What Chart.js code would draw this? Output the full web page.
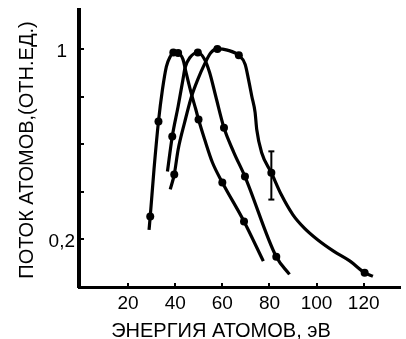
<!DOCTYPE html>
<html>
<head>
<meta charset="utf-8">
<script src="https://cdn.jsdelivr.net/npm/chart.js@4/dist/chart.umd.min.js"></script>
<style>
html,body{margin:0;padding:0;background:#fff;}
canvas{display:block;}
</style>
</head>
<body>
<canvas id="c" width="406" height="339"></canvas>
<script>
// ---- text ----
const xTitle = 'ЭНЕРГИЯ АТОМОВ, эВ';
const yTitle = 'ПОТОК АТОМОВ,(ОТН.ЕД.)';

// ---- ticks ----
const xTickValues = [20, 40, 60, 80, 100, 120];
const xTickLabels = ['20', '40', '60', '80', '100', '120'];
const yTickValues = [0.2, 0.4, 0.6, 0.8, 1.0];
const yTickLabels = ['0,2', '', '', '', '1'];

// ---- curve 1 (peak ~40 eV) ----
const curve1X = [28.9, 29.4, 31.0, 32.9, 34.6, 36.25, 37.9, 39.2, 41.25, 43.3, 44.6, 46.7, 48.75, 49.9, 52.5, 55.8, 60.0, 69.2, 77.4];
const curve1Y = [0.24, 0.297, 0.495, 0.697, 0.832, 0.928, 0.97, 0.987, 0.985, 0.958, 0.903, 0.819, 0.747, 0.705, 0.621, 0.524, 0.44, 0.276, 0.109];
const marks1X = [29.4, 32.9, 39.2, 41.25, 49.9, 60.0, 69.2];
const marks1Y = [0.297, 0.697, 0.987, 0.985, 0.705, 0.44, 0.276];

// ---- curve 2 (peak ~50 eV) ----
const curve2X = [36.7, 38.75, 41.25, 43.3, 44.2, 46.25, 49.6, 52.5, 54.6, 57.2, 60.7, 64.9, 69.6, 82.9, 88.5];
const curve2Y = [0.486, 0.634, 0.761, 0.874, 0.924, 0.966, 0.987, 0.958, 0.903, 0.803, 0.67, 0.566, 0.465, 0.127, 0.053];
const marks2X = [38.75, 49.6, 60.7, 69.6, 82.9];
const marks2Y = [0.634, 0.987, 0.67, 0.465, 0.127];

// ---- curve 3 (peak ~60 eV) ----
const curve3X = [37.9, 39.6, 41.25, 44.0, 46.8, 49.6, 52.4, 55.1, 57.9, 62.1, 67.0, 69.7, 71.1, 72.5, 73.9, 74.6, 76.7, 80.8, 85.0, 89.9, 94.7, 100.3, 107.2, 114.2, 120.4, 123.9];
const curve3Y = [0.411, 0.474, 0.579, 0.693, 0.798, 0.874, 0.937, 0.986, 1.002, 0.997, 0.975, 0.937, 0.874, 0.803, 0.735, 0.663, 0.565, 0.481, 0.389, 0.305, 0.249, 0.2, 0.151, 0.109, 0.06, 0.045];
const marks3X = [39.6, 57.9, 67.0, 80.8, 120.4];
const marks3Y = [0.474, 1.002, 0.975, 0.481, 0.06];

// ---- error bar on curve 3 ----
const errX = 80.8;
const errLow = 0.368;
const errHigh = 0.571;

const FONT = '"Liberation Sans", Arial, sans-serif';
const pts = (xs, ys) => xs.map((x, i) => ({x: x, y: ys[i]}));

const curveDs = (xs, ys) => ({
  type: 'line', data: pts(xs, ys), borderColor: '#000', borderWidth: 3.2,
  pointRadius: 0, fill: false, cubicInterpolationMode: 'monotone', order: 2
});
const markDs = (xs, ys) => ({
  type: 'line', data: pts(xs, ys), showLine: false, pointRadius: 4,
  pointBackgroundColor: '#000', pointBorderColor: '#000', pointBorderWidth: 0, order: 1
});

const inwardTicks = {
  id: 'inwardTicks',
  afterDraw(chart) {
    const ctx = chart.ctx, xs = chart.scales.x, ys = chart.scales.y, a = chart.chartArea;
    ctx.save();
    ctx.strokeStyle = '#000';
    ctx.lineWidth = 2;
    ys.ticks.forEach(t => {
      const py = Math.round(ys.getPixelForValue(t.value));
      ctx.beginPath(); ctx.moveTo(a.left, py); ctx.lineTo(a.left + 5, py); ctx.stroke();
    });
    xs.ticks.forEach(t => {
      const px = Math.round(xs.getPixelForValue(t.value));
      ctx.beginPath(); ctx.moveTo(px, a.bottom); ctx.lineTo(px, a.bottom - 4); ctx.stroke();
    });
    // axis titles
    ctx.fillStyle = '#000';
    ctx.font = '20px ' + FONT;
    ctx.textAlign = 'center';
    ctx.textBaseline = 'middle';
    ctx.fillText(xTitle, 221, 331);
    ctx.translate(27, 150);
    ctx.rotate(-Math.PI / 2);
    ctx.fillText(yTitle, 0, 0);
    ctx.restore();
  }
};

new Chart(document.getElementById('c'), {
  data: {
    datasets: [
      curveDs(curve1X, curve1Y),
      curveDs(curve2X, curve2Y),
      curveDs(curve3X, curve3Y),
      markDs(marks1X, marks1Y),
      markDs(marks2X, marks2Y),
      markDs(marks3X, marks3Y),
      {
        type: 'line', data: [{x: errX, y: errLow}, {x: errX, y: errHigh}],
        borderColor: '#000', borderWidth: 2, showLine: true,
        pointStyle: 'line', pointRadius: 3, pointBorderWidth: 2, pointBorderColor: '#000', order: 3
      }
    ]
  },
  options: {
    responsive: false,
    animation: false,
    devicePixelRatio: 1,
    layout: {padding: {top: 10, right: 0, left: 0, bottom: 0}},
    plugins: {legend: {display: false}, tooltip: {enabled: false}},
    scales: {
      x: {
        type: 'linear', min: -0.83, max: 135.4,
        afterBuildTicks: s => { s.ticks = xTickValues.map(v => ({value: v})); },
        afterFit: s => { s.height = 52; s.paddingLeft = 0; s.paddingRight = 0; },
        grid: {display: false, drawTicks: false},
        border: {display: true, color: '#000', width: 3},
        ticks: {color: '#000', font: {family: FONT, size: 19}, padding: 5, maxRotation: 0, autoSkip: false,
                callback: (v, i) => xTickLabels[i]}
      },
      y: {
        type: 'linear', min: 0, max: 1.166,
        afterBuildTicks: s => { s.ticks = yTickValues.map(v => ({value: v})); },
        afterFit: s => { s.width = 79; s.paddingTop = 0; s.paddingBottom = 0; },
        grid: {display: false, drawTicks: false},
        border: {display: true, color: '#000', width: 4},
        ticks: {color: '#000', font: {family: FONT, size: 19}, padding: 4, crossAlign: 'center', labelOffset: 2.5,
                autoSkip: false, callback: (v, i) => yTickLabels[i]}
      }
    }
  },
  plugins: [inwardTicks]
});
</script>
</body>
</html>
